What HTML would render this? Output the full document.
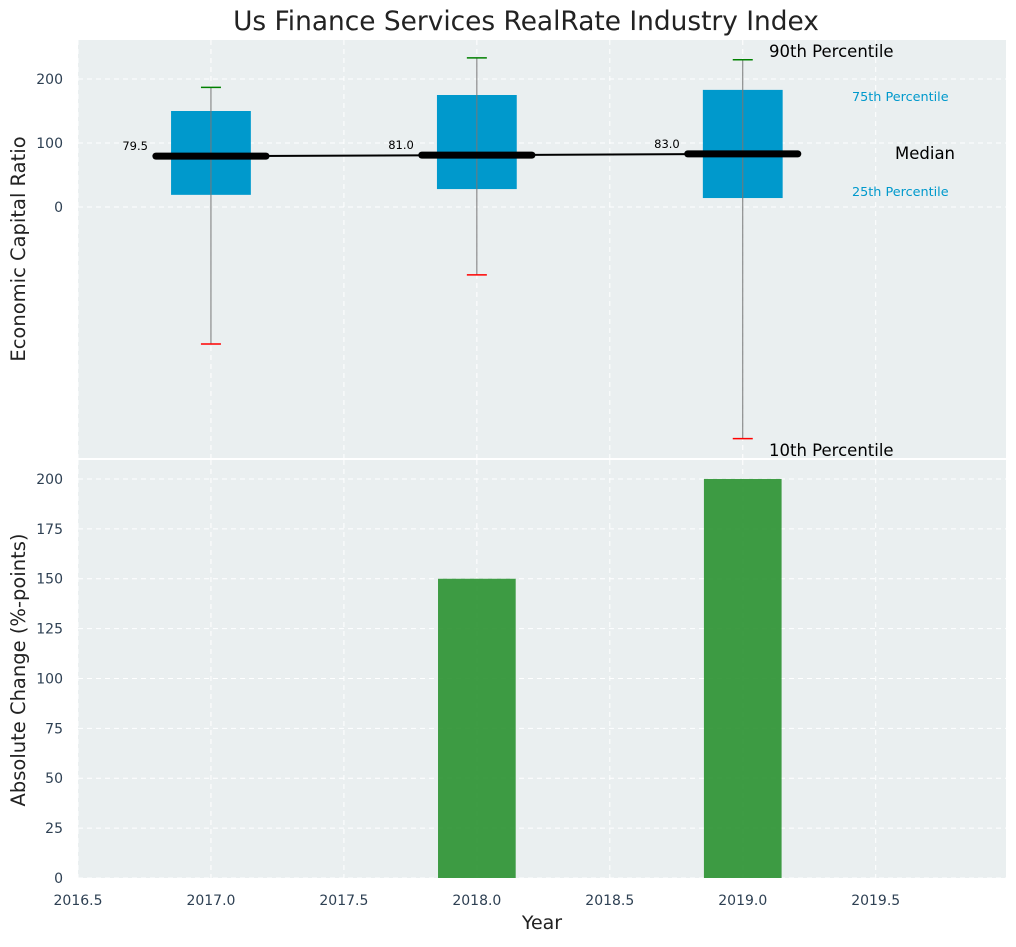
<!DOCTYPE html>
<html><head><meta charset="utf-8"><style>
body{margin:0;background:#fff;font-family:"Liberation Sans","DejaVu Sans",sans-serif}
</style></head><body>
<svg id="c" width="1016" height="942" xmlns="http://www.w3.org/2000/svg" font-family="DejaVu Sans, Liberation Sans, sans-serif"></svg>
<script>
const years=[2017,2018,2019];
const medians=[79.5,81.0,83.0];
const q1=[19,28,14];
const q3=[150,175,183];
const p10=[-214,-106,-362];
const p90=[187,233,230];
const changes=[0,150,200];
const xTicks=[2016.5,2017.0,2017.5,2018.0,2018.5,2019.0,2019.5];
const yTopTicks=[0,100,200];
const yBotTicks=[0,25,50,75,100,125,150,175,200];

const svg=document.getElementById('c');
const NS='http://www.w3.org/2000/svg';
function mk(t,a,p){const e=document.createElementNS(NS,t);for(const k in a)e.setAttribute(k,a[k]);(p||svg).appendChild(e);return e;}
const L=78,R=1006;
const X=v=>L+(v-2016.5)*(R-L)/3.49;
const T0=40,T1=458,B0=460,B1=878;
const Yt=v=>207-v*0.64;
const Yb=v=>B1-v*(B1-B0)/209.5;

let e=mk('rect',{x:L,y:T0,width:R-L,height:T1-T0,fill:'#eaeff0'});

e=mk('rect',{x:L,y:B0,width:R-L,height:B1-B0,fill:'#eaeff0'});


xTicks.forEach(v=>{
  mk('line',{x1:X(v),x2:X(v),y1:T0,y2:T1,stroke:'#fff','stroke-dasharray':'5,4','stroke-width':1});
  mk('line',{x1:X(v),x2:X(v),y1:B0,y2:B1,stroke:'#fff','stroke-dasharray':'5,4','stroke-width':1});
  e=mk('text',{x:X(v),y:905,'text-anchor':'middle','font-size':14,fill:'#2e4053'});e.textContent=v.toFixed(1);
  
});
yTopTicks.forEach(v=>{
  mk('line',{x1:L,x2:R,y1:Yt(v),y2:Yt(v),stroke:'#fff','stroke-dasharray':'5,4'});
  e=mk('text',{x:63,y:Yt(v)+5,'text-anchor':'end','font-size':14,fill:'#2e4053'});e.textContent=v;
  
});
yBotTicks.forEach(v=>{
  mk('line',{x1:L,x2:R,y1:Yb(v),y2:Yb(v),stroke:'#fff','stroke-dasharray':'5,4'});
  e=mk('text',{x:63,y:Yb(v)+5,'text-anchor':'end','font-size':14,fill:'#2e4053'});e.textContent=v;
  
});

const hw=0.15*266, mw=0.207*266;
years.forEach((y,i)=>{
  const cx=X(y);
  e=mk('rect',{x:cx-hw,y:Yt(q3[i]),width:2*hw,height:Yt(q1[i])-Yt(q3[i]),fill:'#0099cc'});
  
  e=mk('line',{x1:cx,x2:cx,y1:Yt(p90[i]),y2:Yt(p10[i]),stroke:'#777','stroke-width':1});
  
  e=mk('line',{x1:cx-10,x2:cx+10,y1:Yt(p90[i]),y2:Yt(p90[i]),stroke:'green','stroke-width':1.5});
  
  e=mk('line',{x1:cx-10,x2:cx+10,y1:Yt(p10[i]),y2:Yt(p10[i]),stroke:'red','stroke-width':1.5});
  
});
e=mk('polyline',{points:years.map((y,i)=>X(y)+','+Yt(medians[i])).join(' '),fill:'none',stroke:'#000','stroke-width':2});

years.forEach((y,i)=>{
  const cx=X(y);
  e=mk('line',{x1:cx-mw,x2:cx+mw,y1:Yt(medians[i]),y2:Yt(medians[i]),stroke:'#000','stroke-width':7,'stroke-linecap':'round'});
  
  e=mk('text',{x:cx-63,y:Yt(medians[i])-6,'text-anchor':'end','font-size':11.5,fill:'#000'});e.textContent=medians[i].toFixed(1);
  
});

years.forEach((y,i)=>{
  if(changes[i]<=0)return;
  e=mk('rect',{x:X(y)-0.146*266,y:Yb(changes[i]),width:0.292*266,height:B1-Yb(changes[i]),fill:'#2a9130',opacity:0.9});
  
});

const ann=[[769,57,'90th Percentile',16.5,'#000'],[852,101,'75th Percentile',12.8,'#0099cc'],[895,159,'Median',16.5,'#000'],[852,196,'25th Percentile',12.8,'#0099cc'],[769,456,'10th Percentile',16.5,'#000']];
ann.forEach(a=>{e=mk('text',{x:a[0],y:a[1],'font-size':a[3],fill:a[4]});e.textContent=a[2];
  });

e=mk('text',{x:526,y:30,'text-anchor':'middle','font-size':26.4,fill:'#222'});e.textContent='Us Finance Services RealRate Industry Index';

e=mk('text',{x:542,y:929,'text-anchor':'middle','font-size':19,fill:'#222'});e.textContent='Year';

e=mk('text',{x:25,y:249,'text-anchor':'middle','font-size':19.5,fill:'#222',transform:'rotate(-90 25 249)'});e.textContent='Economic Capital Ratio';

e=mk('text',{x:25,y:670,'text-anchor':'middle','font-size':19.5,fill:'#222',transform:'rotate(-90 25 670)'});e.textContent='Absolute Change (%-points)';

</script>
</body></html>
